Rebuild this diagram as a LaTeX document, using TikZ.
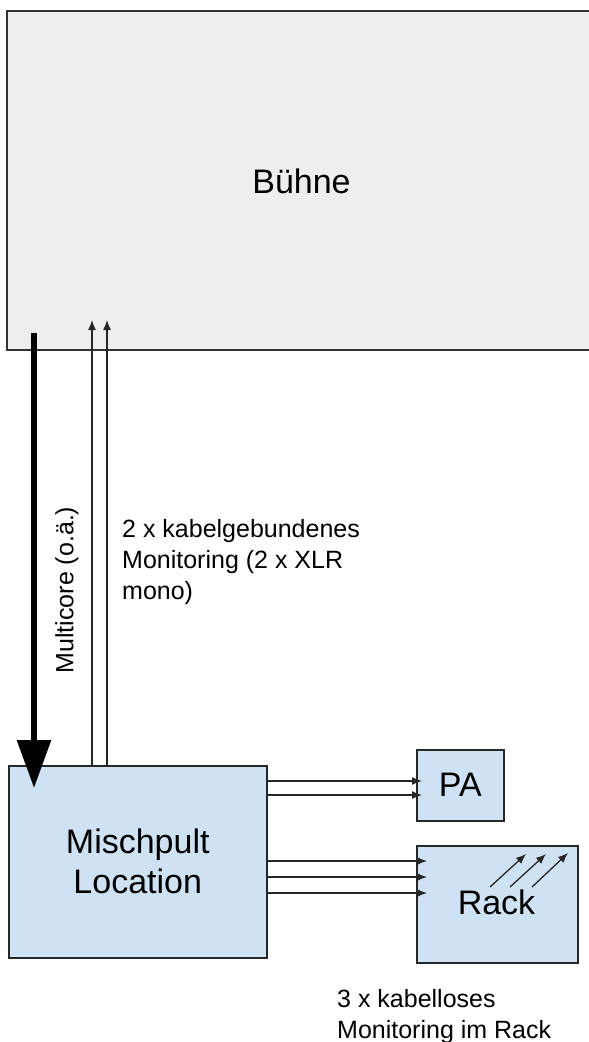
\documentclass[tikz,border=0pt]{standalone}
\usepackage{fontspec}
\setmainfont{Liberation Sans}
\usetikzlibrary{arrows.meta}
\definecolor{stagefill}{HTML}{EEEEEE}
\definecolor{boxfill}{HTML}{CFE2F3}
\definecolor{edgegray}{HTML}{333333}
\tikzset{
  bigtext/.style={font=\fontsize{34}{40}\selectfont, align=center},
  smalltext/.style={font=\fontsize{25}{31}\selectfont},
  stagebox/.style={fill=stagefill, inner sep=0pt},
  stageedge/.style={draw=edgegray, line width=2pt},
  bluebox/.style={draw=black!85, line width=1.5pt, fill=boxfill, inner sep=0pt, bigtext},
  thinarrow/.style={draw=black!85, line width=1.3pt, -{Latex[length=10pt,width=8pt]}},
  multiarrow/.style={draw=black, line width=6pt, -{Triangle[length=48pt,width=33pt]}},
}
\begin{document}
\begin{tikzpicture}[x=1pt,y=-1pt]
\useasboundingbox (0,0) rectangle (589,1042);
\begin{scope}
\clip (0,0) rectangle (589,1042);
\node[stagebox, anchor=north west, minimum width=600pt, minimum height=339pt] (stage) at (7,11) {};
\draw[stageedge] (stage.north east) -- (stage.north west) -- (stage.south west) -- (stage.south east);
\end{scope}
\node[bigtext, inner sep=0pt] (stagelbl) at (301.5,181) {Bühne};

% boxes
\node[bluebox, anchor=north west, minimum width=258pt, minimum height=192pt] (mix) at (8,765) {Mischpult\\Location};
\node[bluebox, anchor=north west, minimum width=87pt, minimum height=71pt] (pa) at (416,749) {PA};
\node[bluebox, anchor=north west, minimum width=161pt, minimum height=117pt] (rack) at (416,845) {};
\node[bigtext, inner sep=0pt] (racklbl) at (496.5,902.5) {Rack};

% multicore
\coordinate (mcstart) at (34,333);
\coordinate (mcend) at (34,788);
\draw[multiarrow] (mcstart) -- (mcend);
\node[smalltext, rotate=90, inner sep=0pt] (mclbl) at (67,590) {Multicore (o.ä.)};

% wired monitoring
\coordinate (mon1) at (92,320);
\coordinate (mon2) at (107,320);
\draw[thinarrow] (mix.north -| mon1) -- (mon1);
\draw[thinarrow] (mix.north -| mon2) -- (mon2);
\node[smalltext, anchor=base west, inner sep=0pt] (wiredlbl) at (122,537)
  {\begin{tabular}[t]{@{}l@{}}2 x kabelgebundenes\\Monitoring (2 x XLR\\mono)\end{tabular}};

% to PA
\coordinate (pa1) at (422,781);
\coordinate (pa2) at (422,795);
\draw[thinarrow] (mix.east |- pa1) -- (pa1);
\draw[thinarrow] (mix.east |- pa2) -- (pa2);

% to Rack
\coordinate (r1) at (427,861);
\coordinate (r2) at (427,877);
\coordinate (r3) at (427,893);
\draw[thinarrow] (mix.east |- r1) -- (r1);
\draw[thinarrow] (mix.east |- r2) -- (r2);
\draw[thinarrow] (mix.east |- r3) -- (r3);

% wireless arrows
\coordinate (w1a) at (490,887); \coordinate (w1b) at (526,854);
\coordinate (w2a) at (510,887); \coordinate (w2b) at (546,854);
\coordinate (w3a) at (532,887); \coordinate (w3b) at (568,853);
\draw[thinarrow] (w1a) -- (w1b);
\draw[thinarrow] (w2a) -- (w2b);
\draw[thinarrow] (w3a) -- (w3b);

\node[smalltext, anchor=base west, inner sep=0pt] (wirelesslbl) at (337,1007)
  {\begin{tabular}[t]{@{}l@{}}3 x kabelloses\\Monitoring im Rack\end{tabular}};
\end{tikzpicture}
\end{document}
